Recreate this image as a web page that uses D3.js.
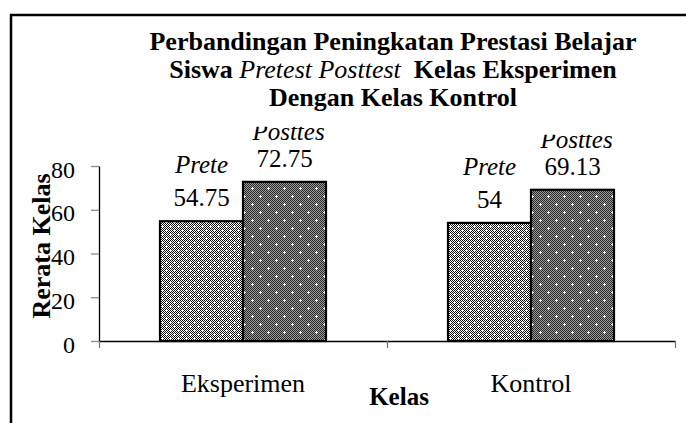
<!DOCTYPE html>
<html><head><meta charset="utf-8">
<script src="https://cdn.jsdelivr.net/npm/d3@7"></script>
<style>body{margin:0;background:#fff}svg{display:block}svg text{font-family:"Liberation Serif","Times New Roman",serif}</style>
</head><body><svg id="c" width="686" height="423"></svg>
<script>
const categories = ["Eksperimen", "Kontrol"];
const seriesNames = ["Pretest", "Posttest"];
const seriesLabels = ["Prete", "Posttes"];
const pretest = [54.75, 54];
const posttest = [72.75, 69.13];
const yTicks = [0, 20, 40, 60, 80];
const xTitle = "Kelas";
const yTitle = "Rerata Kelas";

const series = [pretest, posttest];
const svg = d3.select("#c");
const serif = "Liberation Serif";

// patterns
const defs = svg.append("defs");
const chk = defs.append("pattern").attr("id","chkA").attr("patternUnits","userSpaceOnUse").attr("width",2).attr("height",2);
chk.append("rect").attr("width",2).attr("height",2).attr("fill","#fff");
chk.append("rect").attr("x",0).attr("y",0).attr("width",1).attr("height",1).attr("fill","#111");
chk.append("rect").attr("x",1).attr("y",1).attr("width",1).attr("height",1).attr("fill","#111");
const chkB = defs.append("pattern").attr("id","chkB").attr("patternUnits","userSpaceOnUse").attr("width",2).attr("height",2);
chkB.append("rect").attr("width",2).attr("height",2).attr("fill","#9a9a9a");
chkB.append("rect").attr("x",0).attr("y",0).attr("width",1).attr("height",1).attr("fill","#2a2a2a");
chkB.append("rect").attr("x",1).attr("y",1).attr("width",1).attr("height",1).attr("fill","#2a2a2a");

function plus(p, cx, cy){
  p.append("rect").attr("x",cx-1).attr("y",cy).attr("width",3).attr("height",1).attr("fill","#fff");
  p.append("rect").attr("x",cx).attr("y",cy-1).attr("width",1).attr("height",3).attr("fill","#fff");
}
const pre = defs.append("pattern").attr("id","pPre").attr("patternUnits","userSpaceOnUse").attr("width",8).attr("height",8);
pre.append("rect").attr("width",8).attr("height",8).attr("fill","url(#chkA)");
plus(pre,2,2); plus(pre,6,6);
const post = defs.append("pattern").attr("id","pPost").attr("patternUnits","userSpaceOnUse").attr("width",16).attr("height",16);
post.append("rect").attr("width",16).attr("height",16).attr("fill","url(#chkB)");
plus(post,4,4); plus(post,12,12);
const fills = ["url(#pPre)","url(#pPost)"];

// frame
svg.append("rect").attr("x",11).attr("y",15).attr("width",700).attr("height",430)
  .attr("fill","none").attr("stroke","#000").attr("stroke-width",2.5);

// scales
const y = d3.scaleLinear().domain([0,80]).range([341,166]);
const pi = 122/288;
const x0 = d3.scaleBand().domain(categories).range([99,675]).paddingInner(pi).paddingOuter(pi/2);
const x1 = d3.scaleBand().domain(seriesNames).range([0, x0.bandwidth()]);
const xb = d3.scaleLinear().domain([0, categories.length]).range([99,675]);

// y axis
const ya = svg.append("g").attr("transform","translate(99,0)")
  .call(d3.axisLeft(y).tickValues(yTicks).tickSize(8).tickSizeOuter(0).tickFormat(d=>d));
ya.attr("font-family",null).attr("font-size",null);
ya.select(".domain").attr("stroke","#000").attr("stroke-width",1.3);
ya.selectAll(".tick line").attr("stroke","#8a8a8a").attr("stroke-width",1.3);
ya.selectAll(".tick text").style("font-family",serif).style("font-size","24px").attr("fill","#000")
  .attr("x",-24).attr("dy",null).attr("y",11);

// x axis
const xa = svg.append("g").attr("transform","translate(0,341)")
  .call(d3.axisBottom(xb).ticks(categories.length).tickSize(7).tickSizeOuter(0).tickFormat(""));
xa.select(".domain").attr("stroke","#000").attr("stroke-width",1.3);
xa.selectAll(".tick line").attr("stroke","#777").attr("stroke-width",1.3);

// bars
categories.forEach((c,ci)=>{
  series.forEach((s,si)=>{
    svg.append("rect")
      .attr("x", x0(c)+x1(seriesNames[si]))
      .attr("y", y(s[ci]))
      .attr("width", x1.bandwidth())
      .attr("height", y(0)-y(s[ci]))
      .attr("fill", fills[si]).attr("stroke","#000").attr("stroke-width",2.2);
  });
});

// data labels
const nameGap = [33, 27];
categories.forEach((c,ci)=>{
  series.forEach((s,si)=>{
    const cx = x0(c)+x1(seriesNames[si])+x1.bandwidth()/2;
    const vb = y(s[ci]) - 15;
    svg.append("text").attr("x",cx).attr("y",vb).attr("text-anchor","middle")
      .style("font-family",serif).style("font-size","25px").attr("fill","#000").text(String(s[ci]));
    const nb = vb - nameGap[si];
    const id = "clip"+ci+"_"+si;
    defs.append("clipPath").attr("id",id).append("rect")
      .attr("x",cx-60).attr("y", si===1 ? nb-13 : nb-30).attr("width",120).attr("height",45);
    svg.append("text").attr("x",cx+ (si===1?4:0)).attr("y",nb).attr("text-anchor","middle")
      .attr("clip-path","url(#"+id+")")
      .style("font-family",serif).style("font-style","italic").style("font-size","25px").attr("fill","#000")
      .text(seriesLabels[si]);
  });
});

// category labels
categories.forEach(c=>{
  svg.append("text").attr("x",x0(c)+x0.bandwidth()/2).attr("y",392).attr("text-anchor","middle")
    .style("font-family",serif).style("font-size","26px").attr("fill","#000").text(c);
});

// axis titles
svg.append("text").attr("x",399).attr("y",405).attr("text-anchor","middle")
  .style("font-family",serif).style("font-weight","bold").style("font-size","25px").text(xTitle);
svg.append("text").attr("transform","translate(50,246) rotate(-90)").attr("text-anchor","middle")
  .style("font-family",serif).style("font-weight","bold").style("font-size","26px").text(yTitle);

// title
const t = svg.append("g");
function tt(sel){ return sel.style("font-family",serif).style("font-weight","bold").style("font-size","26px").attr("fill","#000"); }
tt(t.append("text")).attr("x",393).attr("y",50).attr("text-anchor","middle").text("Perbandingan Peningkatan Prestasi Belajar");
const l2 = tt(t.append("text")).attr("x",393).attr("y",78).attr("text-anchor","middle").attr("xml:space","preserve");
l2.append("tspan").text("Siswa ");
l2.append("tspan").style("font-style","italic").style("font-weight","normal").text("Pretest Posttest");
l2.append("tspan").text("  Kelas Eksperimen");
tt(t.append("text")).attr("x",393).attr("y",106).attr("text-anchor","middle").text("Dengan Kelas Kontrol");
</script></body></html>
